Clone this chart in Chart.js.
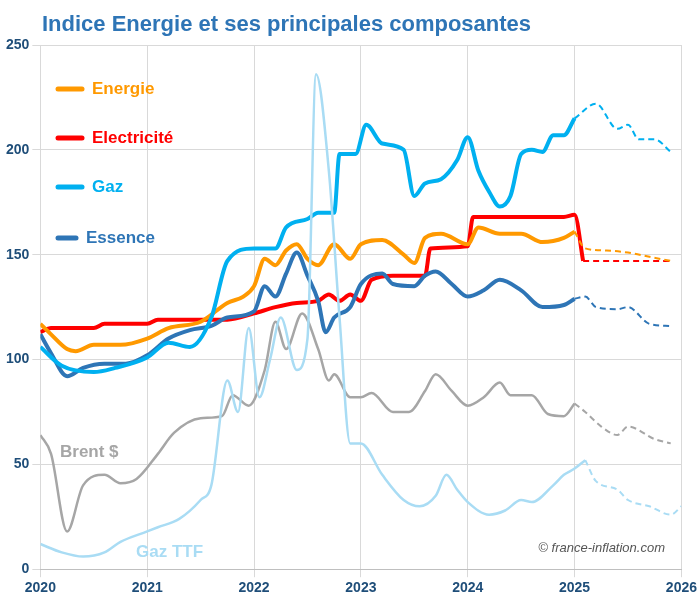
<!DOCTYPE html>
<html><head><meta charset="utf-8">
<script src="https://cdn.jsdelivr.net/npm/chart.js@4"></script>
<style>body{margin:0;background:#fff}#w{width:700px;height:600px}</style>
</head><body><div id="w"><canvas id="c"></canvas></div>
<script>
// x in decimal years, y = index values
const energieX = [2020,2020.1,2020.25,2020.33,2020.5,2020.75,2021,2021.2,2021.5,2021.75,2021.9,2022,2022.1,2022.2,2022.3,2022.4,2022.5,2022.6,2022.75,2022.9,2023,2023.2,2023.4,2023.5,2023.6,2023.75,2024,2024.1,2024.3,2024.5,2024.7,2024.9,2025];
const energieY = [117,112,105,104,107,107,110,115,118,127,130,135,148,145,152,155,148,145,155,148,155,157,150,146,158,160,155,163,160,160,156,158,161];
const energieFX = [2025,2025.1,2025.3,2025.5,2025.7,2025.9];
const energieFY = [161,153,152,151,149,147];

const elecX = [2020,2020.1,2020.5,2020.6,2021,2021.1,2021.75,2022,2022.2,2022.4,2022.6,2022.7,2022.8,2022.9,2023,2023.1,2023.3,2023.6,2023.65,2024,2024.05,2024.9,2025,2025.08];
const elecY = [113,115,115,117,117,119,119,122,125,127,128,131,128,131,128,138,140,140,153,154,168,168,169,147];
const elecFX = [2025.08,2025.9];
const elecFY = [147,147];

const gazX = [2020,2020.2,2020.5,2020.7,2021,2021.2,2021.4,2021.6,2021.75,2022,2022.2,2022.3,2022.5,2022.6,2022.75,2022.8,2022.95,2023.05,2023.2,2023.4,2023.5,2023.6,2023.75,2023.9,2024,2024.1,2024.2,2024.3,2024.4,2024.5,2024.6,2024.7,2024.8,2024.9,2025];
const gazY = [106,97,94,96,101,108,106,120,147,153,153,163,167,170,170,198,198,212,203,200,178,184,186,195,206,190,180,173,178,198,200,199,207,207,215];
const gazFX = [2025,2025.2,2025.4,2025.5,2025.6,2025.75,2025.9];
const gazFY = [215,222,210,212,205,205,199];

const essX = [2020,2020.1,2020.25,2020.4,2020.6,2020.8,2021,2021.2,2021.4,2021.6,2021.75,2022,2022.1,2022.2,2022.3,2022.4,2022.5,2022.6,2022.67,2022.75,2022.9,2023,2023.2,2023.3,2023.5,2023.6,2023.7,2023.85,2024,2024.15,2024.3,2024.5,2024.7,2024.9,2025];
const essY = [112,103,92,96,98,98,102,110,114,116,120,123,135,130,141,151,140,128,113,120,125,136,141,136,135,140,142,136,130,133,138,133,125,126,129];
const essFX = [2025,2025.1,2025.2,2025.4,2025.5,2025.7,2025.9];
const essFY = [129,130,125,124,125,117,116];

const brentX = [2020,2020.1,2020.25,2020.4,2020.6,2020.75,2020.9,2021.1,2021.25,2021.5,2021.7,2021.8,2021.95,2022.1,2022.2,2022.3,2022.45,2022.6,2022.7,2022.75,2022.9,2023,2023.1,2023.3,2023.45,2023.6,2023.7,2023.85,2024,2024.15,2024.3,2024.4,2024.6,2024.75,2024.9,2025];
const brentY = [64,55,18,40,45,41,43,55,65,72,73,83,78,95,118,105,122,105,90,93,82,82,84,75,75,85,93,85,78,82,89,83,83,74,73,79];
const brentFX = [2025,2025.1,2025.25,2025.4,2025.5,2025.75,2025.9];
const brentFY = [79,75,68,64,68,62,60];

const ttfX = [2020,2020.2,2020.4,2020.6,2020.75,2021,2021.1,2021.3,2021.5,2021.6,2021.75,2021.85,2021.95,2022.05,2022.15,2022.25,2022.4,2022.5,2022.58,2022.7,2022.8,2022.9,2023,2023.2,2023.4,2023.55,2023.7,2023.8,2023.9,2024,2024.2,2024.35,2024.5,2024.6,2024.8,2024.9,2025,2025.1];
const ttfY = [12,8,6,8,13,18,20,24,33,40,90,75,115,82,100,120,95,110,236,190,120,60,60,45,33,30,35,45,38,32,26,28,33,32,40,45,48,52];
const ttfFX = [2025.1,2025.2,2025.4,2025.5,2025.7,2025.9,2026];
const ttfFY = [52,42,38,33,30,26,30];

const xTicks = [2020,2021,2022,2023,2024,2025,2026];

const pts = (xs, ys) => xs.map((x, i) => ({ x, y: ys[i] }));
function ds(xs, ys, color, width, dashed) {
  return { data: pts(xs, ys), borderColor: color, borderWidth: width, borderDash: dashed ? [6, 4] : [],
    pointRadius: 0, fill: false, cubicInterpolationMode: "monotone" };
}

const labels = [
  { text: "Energie", color: "#FF9900", x: 92, y: 89, line: true },
  { text: "Electricité", color: "#FF0000", x: 92, y: 138, line: true },
  { text: "Gaz", color: "#00B0F0", x: 92, y: 187, line: true },
  { text: "Essence", color: "#2E75B6", x: 86, y: 238, line: true },
  { text: "Brent $", color: "#A6A6A6", x: 60, y: 452 },
  { text: "Gaz TTF", color: "#A9DCF4", x: 136, y: 552 },
];

const overlay = {
  id: "overlay",
  afterDraw(chart) {
    const c = chart.ctx;
    c.save();
    c.font = "bold 22px Arial, 'Liberation Sans'";
    c.fillStyle = "#2E75B6";
    c.textBaseline = "middle";
    c.fillText("Indice Energie et ses principales composantes", 42, 25);
    c.font = "bold 17px Arial, 'Liberation Sans'";
    labels.forEach(l => {
      if (l.line) {
        c.strokeStyle = l.color; c.lineWidth = 5; c.lineCap = "round";
        c.beginPath(); c.moveTo(58, l.y); c.lineTo(l.x - 10, l.y); c.stroke();
      }
      c.fillStyle = l.color; c.fillText(l.text, l.x, l.y);
    });
    c.font = "italic 13px Arial, 'Liberation Sans'";
    c.fillStyle = "#555";
    c.textAlign = "right";
    c.fillText("© france-inflation.com", 665, 548);
    c.restore();
  }
};

new Chart(document.getElementById("c"), {
  type: "line",
  data: { datasets: [
    ds(ttfX, ttfY, "#A9DCF4", 2.5), ds(ttfFX, ttfFY, "#A9DCF4", 2, true),
    ds(brentX, brentY, "#A6A6A6", 2.5), ds(brentFX, brentFY, "#A6A6A6", 2, true),
    ds(gazX, gazY, "#00B0F0", 4), ds(gazFX, gazFY, "#00B0F0", 2, true),
    ds(essX, essY, "#2E75B6", 4), ds(essFX, essFY, "#2E75B6", 2, true),
    ds(energieX, energieY, "#FF9900", 4), ds(energieFX, energieFY, "#FF9900", 2, true),
    ds(elecX, elecY, "#FF0000", 4), ds(elecFX, elecFY, "#FF0000", 2, true),
  ]},
  options: {
    responsive: true, maintainAspectRatio: false, animation: false,
    layout: { padding: { right: 18, top: 45, left: 3 } },
    plugins: { legend: { display: false }, tooltip: { enabled: false } },
    scales: {
      x: { type: "linear", min: 2020, max: 2026,
        afterBuildTicks: a => { a.ticks = xTicks.map(v => ({ value: v })); },
        grid: { color: "#D9D9D9" }, border: { color: "#BFBFBF" },
        ticks: { color: "#1F4E79", font: { size: 14, weight: "bold", family: "Arial, 'Liberation Sans'" }, callback: v => v } },
      y: { min: 0, max: 250, ticks: { stepSize: 50, color: "#1F4E79",
          font: { size: 14, weight: "bold", family: "Arial, 'Liberation Sans'" } },
        grid: { color: "#D9D9D9" }, border: { display: false } }
    }
  },
  plugins: [overlay]
});
</script></body></html>
